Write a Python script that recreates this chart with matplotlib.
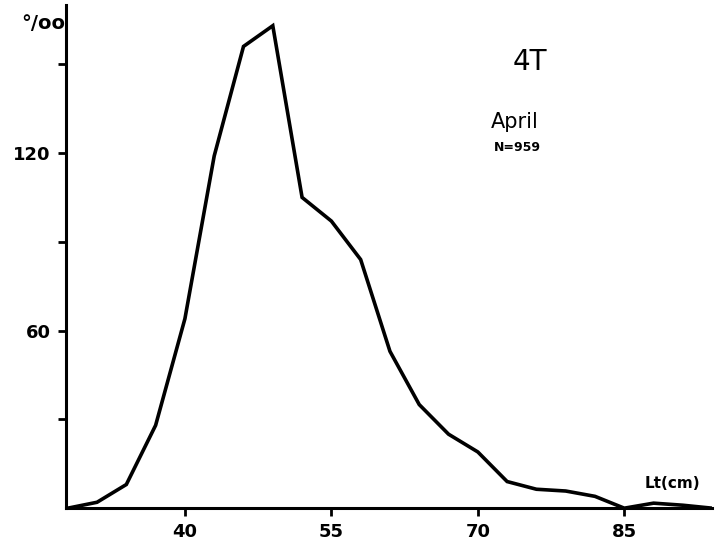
import matplotlib.pyplot as plt
from matplotlib.ticker import FixedLocator

# length classes (cm) and frequency (per mille)
lengths = [28, 31, 34, 37, 40, 43, 46, 49, 52, 55, 58, 61, 64, 67, 70,
           73, 76, 79, 82, 85, 88, 91, 94]
freq = [0, 2, 8, 28, 64, 119, 156, 163, 105, 97, 84, 53, 35, 25, 19,
        9, 6.4, 5.8, 4, 0, 1.7, 1, 0]

x_ticks = [40, 55, 70, 85]
y_ticks = [60, 120]
y_minor = [30, 90, 150]


def main():
    fig = plt.figure(figsize=(7.23, 5.56), dpi=100)
    ax = fig.add_axes([0.091, 0.086, 0.894, 0.905])

    ax.plot(lengths, freq, color='black', linewidth=2.6, solid_joinstyle='miter')

    ax.set_xlim(27.8, 94)
    ax.set_ylim(0, 170)

    for side in ['top', 'right']:
        ax.spines[side].set_visible(False)
    for side in ['left', 'bottom']:
        ax.spines[side].set_linewidth(2.2)

    ax.set_xticks(x_ticks)
    ax.set_yticks(y_ticks)
    ax.yaxis.set_minor_locator(FixedLocator(y_minor))
    ax.tick_params(axis='both', which='both', direction='out', width=2, length=6)
    ax.tick_params(axis='both', labelsize=13, pad=5)
    for lab in ax.get_xticklabels() + ax.get_yticklabels():
        lab.set_fontweight('bold')

    fig.text(0.03, 0.958, '°/oo', fontsize=14, fontweight='bold', ha='left', va='center')
    fig.text(0.733, 0.888, '4T', fontsize=20, ha='center', va='center')
    fig.text(0.712, 0.78, 'April', fontsize=15, ha='center', va='center')
    fig.text(0.716, 0.735, 'N=959', fontsize=9, fontweight='bold', ha='center', va='center')
    fig.text(0.93, 0.131, 'Lt(cm)', fontsize=11, fontweight='bold', ha='center', va='center')

    plt.savefig('out.png', dpi=100)


if __name__ == '__main__':
    main()
